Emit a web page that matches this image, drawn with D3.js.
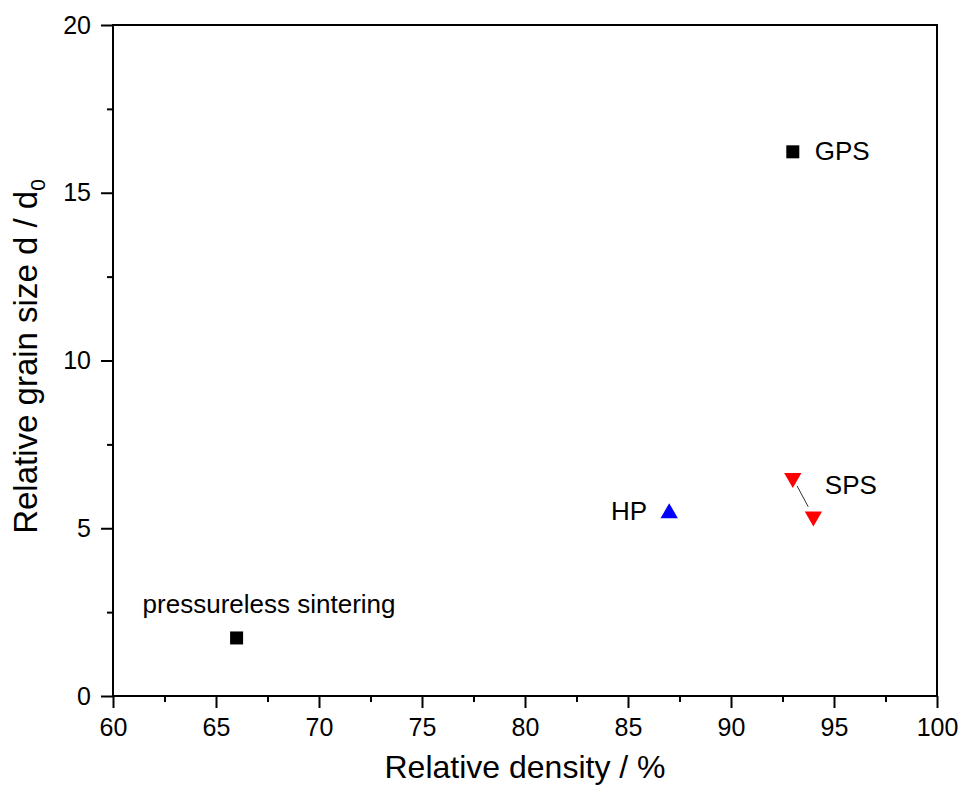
<!DOCTYPE html>
<html>
<head>
<meta charset="utf-8">
<script src="https://cdn.jsdelivr.net/npm/d3@7"></script>
<style>
  body { margin: 0; background: #fff; }
  text { font-family: "Liberation Sans", Arial, sans-serif; fill: #000; }
</style>
</head>
<body>
<svg id="chart" width="965" height="791"></svg>
<script>
// Data
const squares = [
  { name: "pressureless sintering", x: 66, y: 1.73 },
  { name: "GPS", x: 93, y: 16.22 }
];
const hpPoints = [{ name: "HP", x: 87, y: 5.45 }];
const spsPoints = [
  { name: "SPS", x: 93, y: 6.5 },
  { name: "SPS", x: 94, y: 5.35 }
];
const xTicks = [60, 65, 70, 75, 80, 85, 90, 95, 100];
const yTicks = [0, 5, 10, 15, 20];

const CONFIG = {
  margin: { top: 25, right: 28, bottom: 95, left: 113 },
  width: 965,
  height: 791,
  majorTick: 12,
  minorTick: 6
};

const svg = d3.select("#chart");
const w = CONFIG.width - CONFIG.margin.left - CONFIG.margin.right;
const h = CONFIG.height - CONFIG.margin.top - CONFIG.margin.bottom;
const g = svg.append("g").attr("transform", `translate(${CONFIG.margin.left},${CONFIG.margin.top})`);

const x = d3.scaleLinear().domain([60, 100]).range([0, w]);
const y = d3.scaleLinear().domain([0, 20]).range([h, 0]);

// minor ticks (every 2.5)
const xMinor = d3.range(62.5, 100, 5);
const yMinor = d3.range(2.5, 20, 5);

g.append("g")
  .attr("transform", `translate(0,${h})`)
  .call(d3.axisBottom(x).tickValues(xMinor).tickSize(CONFIG.minorTick).tickFormat(""))
  .call(a => a.select(".domain").remove())
  .call(a => a.selectAll("line").attr("stroke-width", 2));

g.append("g")
  .call(d3.axisLeft(y).tickValues(yMinor).tickSize(CONFIG.minorTick).tickFormat(""))
  .call(a => a.select(".domain").remove())
  .call(a => a.selectAll("line").attr("stroke-width", 2));

const xAxis = g.append("g")
  .attr("transform", `translate(0,${h})`)
  .call(d3.axisBottom(x).tickValues(xTicks).tickSize(CONFIG.majorTick).tickPadding(10))
  .call(a => a.select(".domain").remove());
xAxis.selectAll("line").attr("stroke-width", 2);
xAxis.selectAll("text").attr("font-size", 25).attr("font-family", "Liberation Sans, Arial, sans-serif");

const yAxis = g.append("g")
  .call(d3.axisLeft(y).tickValues(yTicks).tickSize(CONFIG.majorTick).tickPadding(10))
  .call(a => a.select(".domain").remove());
yAxis.selectAll("line").attr("stroke-width", 2);
yAxis.selectAll("text").attr("font-size", 25).attr("font-family", "Liberation Sans, Arial, sans-serif");

// frame
g.append("rect")
  .attr("width", w).attr("height", h)
  .attr("fill", "none").attr("stroke", "#000").attr("stroke-width", 2);

// leader line between SPS points
const p1 = [x(spsPoints[0].x), y(spsPoints[0].y)];
const p2 = [x(spsPoints[1].x), y(spsPoints[1].y)];
const len = Math.hypot(p2[0] - p1[0], p2[1] - p1[1]);
const ux = (p2[0] - p1[0]) / len, uy = (p2[1] - p1[1]) / len;
g.append("line")
  .attr("x1", p1[0] + ux * 9).attr("y1", p1[1] + uy * 9)
  .attr("x2", p2[0] - ux * 11).attr("y2", p2[1] - uy * 11)
  .attr("stroke", "#333").attr("stroke-width", 1);

// markers
g.selectAll(".sq")
  .data(squares)
  .join("rect")
  .attr("class", "sq")
  .attr("x", d => x(d.x) - 6.5)
  .attr("y", d => y(d.y) - 6.5)
  .attr("width", 13).attr("height", 13)
  .attr("fill", "#000");

const tri = d3.symbol().type(d3.symbolTriangle).size(130);
g.selectAll(".hp")
  .data(hpPoints)
  .join("path")
  .attr("class", "hp")
  .attr("d", tri)
  .attr("transform", d => `translate(${x(d.x)},${y(d.y)})`)
  .attr("fill", "#0000ff");

g.selectAll(".sps")
  .data(spsPoints)
  .join("path")
  .attr("class", "sps")
  .attr("d", tri)
  .attr("transform", d => `translate(${x(d.x)},${y(d.y)}) rotate(180)`)
  .attr("fill", "#ff0000");

// labels
const lbl = (d, dx, dy, anchor) =>
  g.append("text")
    .attr("x", x(d.x) + dx).attr("y", y(d.y) + dy)
    .attr("text-anchor", anchor)
    .attr("font-size", 26)
    .text(d.name);

lbl(squares[0], -94, -25, "start");
lbl(squares[1], 22, 8, "start");
lbl(hpPoints[0], -22, 7, "end");
lbl(spsPoints[0], 32, 16, "start");

// axis titles
svg.append("text")
  .attr("x", CONFIG.margin.left + w / 2)
  .attr("y", 778)
  .attr("text-anchor", "middle")
  .attr("font-size", 32)
  .text("Relative density / %");

const yt = svg.append("text")
  .attr("transform", `translate(37,${CONFIG.margin.top + h / 2 - 4}) rotate(-90)`)
  .attr("text-anchor", "middle")
  .attr("font-size", 33);
yt.append("tspan").text("Relative grain size d / d");
yt.append("tspan").attr("font-size", 21).attr("dy", 8).text("0");
</script>
</body>
</html>
